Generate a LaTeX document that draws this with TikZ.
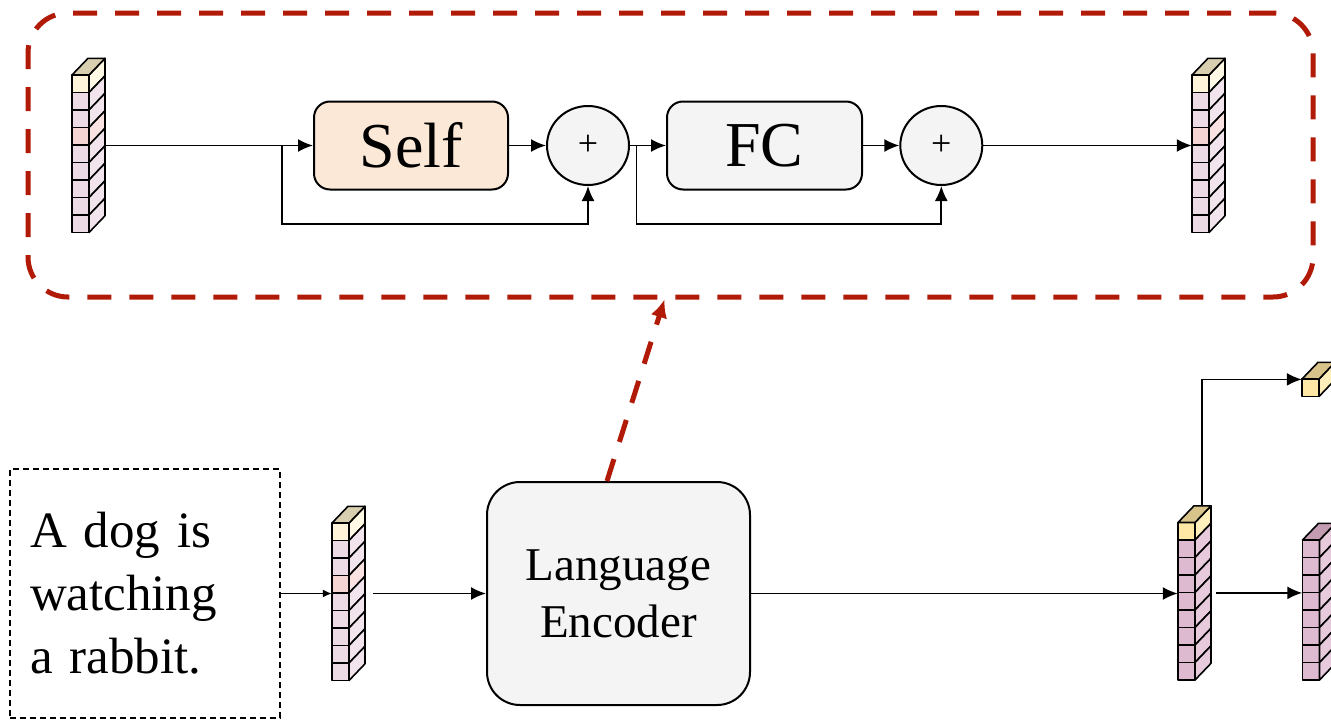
\documentclass[tikz,border=0pt]{standalone}
\usepackage{fontspec}
\setmainfont{Liberation Serif}
\usetikzlibrary{arrows.meta,shapes.geometric,fit}

\definecolor{blockred}{RGB}{176,26,6}
\definecolor{selffill}{RGB}{252,232,214}
\definecolor{boxgray}{RGB}{244,244,244}
% pale token colours
\definecolor{ltyF}{RGB}{255,243,218}\definecolor{ltyS}{RGB}{255,249,230}\definecolor{ltyT}{RGB}{216,206,176}
\definecolor{ltpF}{RGB}{236,218,228}\definecolor{ltpS}{RGB}{242,228,236}
\definecolor{ltrF}{RGB}{245,212,212}\definecolor{ltrS}{RGB}{250,226,226}
% strong token colours
\definecolor{dkyF}{RGB}{255,231,165}\definecolor{dkyS}{RGB}{255,239,186}\definecolor{dkyT}{RGB}{216,196,138}
\definecolor{dkpF}{RGB}{222,186,208}\definecolor{dkpS}{RGB}{231,203,220}\definecolor{dkpT}{RGB}{196,156,178}

% #1 name, #2 left x, #3 top y, #4 number of cells, #5 top face colour, #6 cell colours (top to bottom)
\newcommand\tokenstack[6]{%
  \foreach \cc [count=\i from 0] in {#6} {
    \pgfmathsetmacro\yt{#3+17.5*\i}
    \filldraw[stackedge, fill=\cc F] (#2,\yt) rectangle ++(17,17.5);
    \filldraw[stackedge, fill=\cc S] (#2+17,\yt) -- ++(16,-16.7) -- ++(0,17.5) -- ++(-16,16.7) -- cycle;
  }
  \filldraw[stackedge, fill=#5] (#2,#3) -- ++(16,-16.7) -- ++(17,0) -- ++(-16,16.7) -- cycle;
  \pgfmathsetmacro\yb{#3+17.5*#4}
  \node[fit={(#2,#3-16.7) (#2+33,\yb)}, inner sep=0pt] (#1) {};
}

\begin{document}
\begin{tikzpicture}[x=1pt, y=-1pt,
  stackedge/.style={draw=black, line width=1.6pt, line join=round},
  redbox/.style={draw=blockred, line width=5pt, dash pattern=on 24pt off 18pt, rounded corners=40pt},
  procbox/.style={draw=black, line width=2pt, rounded corners=16pt, inner sep=0pt,
    font=\fontsize{64}{70}\selectfont},
  addnode/.style={ellipse, draw=black, line width=2pt, fill=boxgray, minimum width=82pt,
    minimum height=79pt, inner sep=0pt, font=\fontsize{36}{38}\selectfont},
  arr/.style={line width=1.8pt, -{Latex[length=15pt,width=13pt]}},
  smallarr/.style={line width=1.5pt, -{Latex[length=9pt,width=8pt]}},
  redarr/.style={draw=blockred, line width=5pt, dash pattern=on 23pt off 18pt,
    -{Latex[length=18pt,width=17pt]}},
]
\useasboundingbox (0,0) rectangle (1331,720);
\clip (0,0) rectangle (1331,720);

% ---------- transformer block ----------
\node[redbox, minimum width=1285pt, minimum height=284pt] (blk) at (670.5,155) {};

\node[procbox, fill=selffill, minimum width=194pt, minimum height=88pt] (self) at (411,145.5) {Self};
\node[procbox, fill=boxgray, minimum width=195pt, minimum height=88pt] (fc) at (764.5,145.5) {FC};
\node[addnode] (add1) at (588,145.5) {+};
\node[addnode] (add2) at (941.3,145.5) {+};

\tokenstack{tin}{72}{75}{9}{ltyT}{lty,ltp,ltp,ltr,ltp,ltp,ltp,ltp,ltp}
\tokenstack{tout}{1192}{75}{9}{ltyT}{lty,ltp,ltp,ltr,ltp,ltp,ltp,ltp,ltp}

\draw[arr] (tin.east |- self.west) -- (self.west) coordinate[pos=0.852] (br1);
\draw[arr] (br1) -- ++(0,78.5) -| (add1.south);
\draw[arr] (self.east) -- (add1.west);
\draw[arr] (add1.east) -- (fc.west) coordinate[pos=0.18] (br2);
\draw[arr] (br2) -- ++(0,78.5) -| (add2.south);
\draw[arr] (fc.east) -- (add2.west);
\draw[arr] (add2.east) -- (tout.west |- add2.east);

% ---------- language branch ----------
\node[draw=black, line width=1.5pt, dash pattern=on 6pt off 4pt, text width=230pt, align=left,
  inner xsep=20pt, inner ysep=0pt, minimum height=249pt, font=\fontsize{51}{63}\selectfont]
  (sent) at (145,593.5) {A dog is\\watching\\a rabbit.};

\node[draw=black, line width=2pt, fill=boxgray, rounded corners=33pt, minimum width=263pt,
  minimum height=223pt, align=center, font=\fontsize{47}{57}\selectfont]
  (enc) at (618.5,593.5) {Language\\Encoder};

\tokenstack{temb}{332}{523}{9}{ltyT}{lty,ltp,ltp,ltr,ltp,ltp,ltp,ltp,ltp}
\tokenstack{tenc}{1178}{522.5}{9}{dkyT}{dky,dkp,dkp,dkp,dkp,dkp,dkp,dkp,dkp}
\tokenstack{tseq}{1302.5}{540}{8}{dkpT}{dkp,dkp,dkp,dkp,dkp,dkp,dkp,dkp}
\tokenstack{tcls}{1302}{379}{1}{dkyT}{dky}

\draw[smallarr] (sent.east) -- (temb.west |- sent.east);
\draw[arr] ([xshift=8pt]temb.east |- enc.west) -- (enc.west);
\draw[arr] (enc.east) -- (tenc.west |- enc.east);
\draw[arr] ([xshift=5pt]tenc.east) -- (tseq.west |- tenc.east);
\draw[arr] ([xshift=7.5pt]tenc.north) |- (tcls.west);

% encoder detail pointer
\draw[redarr] ([xshift=121pt]enc.north west) -- ([xshift=639pt]blk.south west);
\end{tikzpicture}
\end{document}
